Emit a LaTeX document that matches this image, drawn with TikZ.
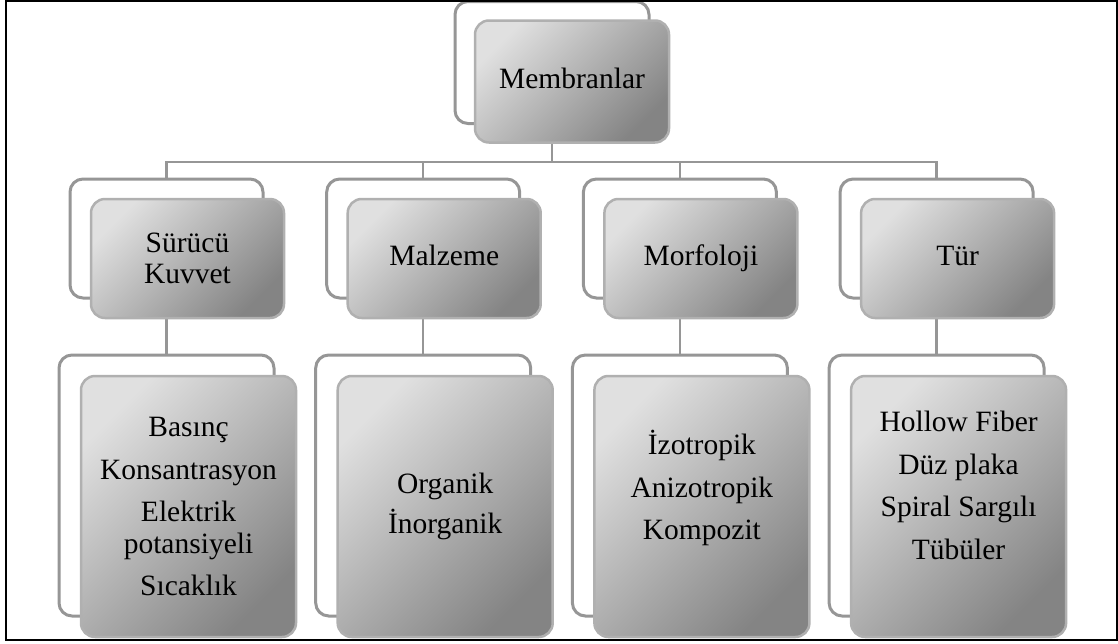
\documentclass[tikz,border=0pt]{standalone}
\usepackage{fontspec}
\setmainfont{Liberation Serif}
\definecolor{memLight}{RGB}{224,224,224}
\definecolor{memDark}{RGB}{132,132,132}
\definecolor{memEdge}{RGB}{176,176,176}
\definecolor{memLine}{RGB}{150,150,150}
\usetikzlibrary{positioning,backgrounds}

\begin{document}
\begin{tikzpicture}[x=1pt, y=-1pt,
  back/.style={draw=memLine, line width=3pt, fill=white, rounded corners=13pt,
               outer sep=0pt, inner sep=0pt},
  front/.style={draw=memEdge, line width=2.5pt, rounded corners=14pt,
                top color=memLight, bottom color=memDark, shading angle=45,
                outer sep=0pt, inner sep=0pt, align=center,
                font=\fontsize{29.5}{31.5}\selectfont},
  lvltop/.style={minimum width=194pt, minimum height=122pt},
  lvlone/.style={minimum width=193pt, minimum height=119pt},
  lvltwo/.style={minimum width=215pt, minimum height=261pt},
  oneline/.style={text height=20pt, text depth=6.5pt},
  conn/.style={draw=memLine, line width=2.5pt}
]
  \useasboundingbox (0,0) rectangle (1118,643);

  \node[back, lvltop] (memb) at (552,62.5) {};
  \node[front, lvltop, oneline, xshift=20pt, yshift=-19pt] (mem) at (memb) {Membranlar};

  \node[back, lvlone] (kuvb) at (166.5,238.5) {};
  \node[back, lvlone, right=63.7pt of kuvb] (malb) {};
  \node[back, lvlone, right=63.7pt of malb] (morb) {};
  \node[back, lvlone, right=63.7pt of morb] (turb) {};

  \node[front, lvlone, xshift=21pt, yshift=-20pt] (kuv) at (kuvb) {Sürücü\\Kuvvet};
  \node[front, lvlone, oneline, xshift=21pt, yshift=-20pt] (mal) at (malb) {Malzeme};
  \node[front, lvlone, oneline, xshift=21pt, yshift=-20pt] (mor) at (morb) {Morfoloji};
  \node[front, lvlone, oneline, xshift=21pt, yshift=-20pt] (tur) at (turb) {Tür};

  \node[back, lvltwo, below=57pt of kuvb] (basb) {};
  \node[back, lvltwo, below=57pt of malb] (orgb) {};
  \node[back, lvltwo, below=57pt of morb] (izob) {};
  \node[back, lvltwo, below=57pt of turb] (holb) {};

  \node[front, lvltwo, xshift=22pt, yshift=-21pt] (bas) at (basb)
    {Basınç\\[11pt]Konsantrasyon\\[11pt]Elektrik\\potansiyeli\\[11pt]Sıcaklık};
  \node[front, lvltwo, xshift=22pt, yshift=-21pt] (org) at (orgb)
    {Organik\\[9pt]İnorganik};
  \node[front, lvltwo, xshift=22pt, yshift=-21pt] (izo) at (izob)
    {İzotropik\\[11pt]Anizotropik\\[11pt]Kompozit\\[11pt]\mbox{}};
  \node[front, lvltwo, xshift=22pt, yshift=-21pt] (hol) at (holb)
    {Hollow Fiber\\[11pt]Düz plaka\\[11pt]Spiral Sargılı\\[11pt]Tübüler\\[11pt]\mbox{}};

  \begin{scope}[on background layer]
    \coordinate (bar) at (0,162);
    \foreach \kid in {kuvb,malb,morb,turb}
      \draw[conn] (memb.south) -- (memb.south |- bar) -| (\kid.north);
    \draw[conn] (kuvb.south) -- (basb.north);
    \draw[conn] (malb.south) -- (orgb.north);
    \draw[conn] (morb.south) -- (izob.north);
    \draw[conn] (turb.south) -- (holb.north);
  \end{scope}

  \draw[black, line width=1.5pt] (6,1) rectangle (1117,640);
\end{tikzpicture}
\end{document}
